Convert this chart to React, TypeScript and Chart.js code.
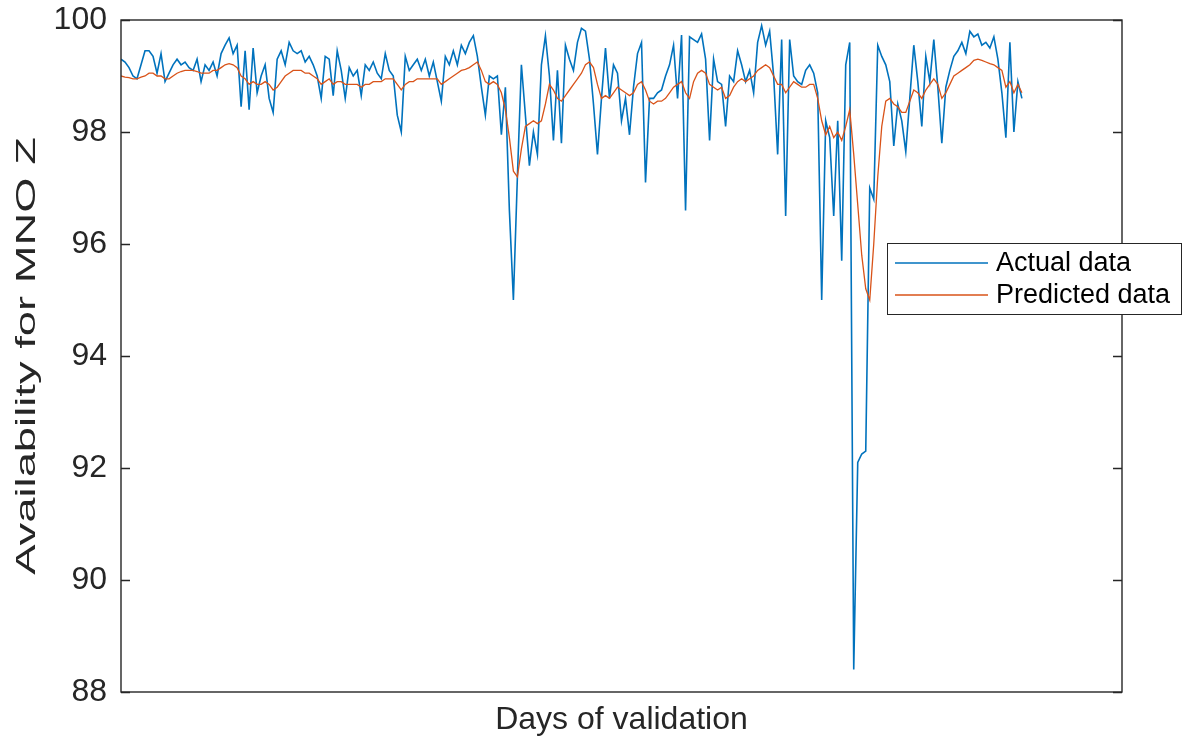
import React, { useEffect, useRef } from "react";
import { Chart, registerables } from "chart.js";

Chart.register(...registerables);

// Daily availability (%) over the validation window
const actualData = [
  99.3, 99.25, 99.15, 99.0, 98.95, 99.2, 99.45, 99.45, 99.35, 99.05,
  99.4, 98.9, 99.05, 99.2, 99.3, 99.2, 99.25, 99.15, 99.1, 99.3,
  98.9, 99.2, 99.1, 99.25, 99.0, 99.4, 99.55, 99.68, 99.4, 99.55,
  98.45, 99.45, 98.4, 99.5, 98.7, 99.0, 99.2, 98.6, 98.35, 99.3,
  99.45, 99.2, 99.6, 99.45, 99.4, 99.45, 99.25, 99.35, 99.2, 99.0,
  98.6, 99.35, 99.3, 98.65, 99.45, 99.1, 98.6, 99.15, 99.0, 99.1,
  98.65, 99.2, 99.1, 99.25, 99.05, 98.95, 99.4, 99.1, 99.0, 98.3,
  98.0, 99.35, 99.1, 99.2, 99.3, 99.1, 99.3, 99.0, 99.25, 98.9,
  98.55, 99.35, 99.2, 99.45, 99.2, 99.55, 99.4, 99.6, 99.72, 99.35,
  98.8, 98.3, 99.0, 98.95, 99.0, 97.95, 98.8, 96.6, 95.0, 97.2,
  99.2, 98.3, 97.4, 98.0, 97.6, 99.2, 99.72, 99.0, 97.85, 99.1,
  97.8, 99.55, 99.3, 99.1, 99.6, 99.85, 99.8, 99.3, 98.5, 97.6,
  98.6, 99.5, 98.6, 99.2, 99.05, 98.2, 98.6, 97.95, 98.8, 99.4,
  99.6, 97.1, 98.6, 98.6, 98.7, 98.75, 99.0, 99.2, 99.55, 98.6,
  99.73, 96.6, 99.7, 99.65, 99.6, 99.75, 99.3, 97.85, 99.3, 98.9,
  98.85, 98.1, 99.0, 98.9, 99.45, 99.2, 98.9, 99.1, 98.7, 99.6,
  99.9, 99.55, 99.8, 99.0, 97.6, 99.65, 96.5, 99.65, 99.0, 98.9,
  98.85, 99.1, 99.2, 99.05, 98.7, 95.0, 98.2, 97.9, 96.5, 98.2,
  95.7, 99.2, 99.6, 88.4, 92.1, 92.25, 92.3, 97.0, 96.8, 99.55,
  99.35, 99.2, 98.9, 97.75, 98.5, 98.2, 97.65, 98.6, 99.55, 98.9,
  98.1, 99.35, 98.9, 99.65, 98.8, 97.8, 98.8, 99.1, 99.35, 99.45,
  99.6, 99.4, 99.8, 99.7, 99.75, 99.55, 99.6, 99.5, 99.7, 99.3,
  98.7, 97.9, 99.6, 98.0, 98.9, 98.6,
];

// Model output for the same days
const predictedData = [
  99.0, 98.98, 98.97, 98.95, 98.95, 98.98, 99.0, 99.05, 99.05, 99.0,
  99.0, 98.95, 98.95, 99.0, 99.05, 99.08, 99.1, 99.1, 99.1, 99.08,
  99.05, 99.05, 99.05, 99.1, 99.1, 99.15, 99.2, 99.22, 99.2, 99.15,
  99.0, 98.95, 98.85, 98.9, 98.85, 98.85, 98.9, 98.85, 98.75, 98.8,
  98.9, 99.0, 99.05, 99.1, 99.1, 99.1, 99.05, 99.05, 99.0, 98.95,
  98.85, 98.9, 98.95, 98.85, 98.9, 98.9, 98.85, 98.85, 98.85, 98.85,
  98.8, 98.85, 98.85, 98.9, 98.9, 98.9, 98.95, 98.95, 98.95, 98.85,
  98.75, 98.85, 98.9, 98.9, 98.95, 98.95, 98.95, 98.95, 98.95, 98.95,
  98.85, 98.9, 98.95, 99.0, 99.05, 99.1, 99.12, 99.15, 99.2, 99.25,
  99.1, 98.9, 98.85, 98.9, 98.85, 98.7, 98.4, 97.9, 97.3, 97.2,
  97.7, 98.1, 98.15, 98.2, 98.15, 98.2, 98.5, 98.85, 98.75, 98.6,
  98.55, 98.65, 98.75, 98.85, 98.95, 99.05, 99.2, 99.25, 99.15, 98.85,
  98.6, 98.65, 98.6, 98.7, 98.8, 98.75, 98.7, 98.65, 98.7, 98.85,
  98.9, 98.75, 98.55, 98.5, 98.55, 98.55, 98.6, 98.7, 98.8, 98.85,
  98.9, 98.7, 98.6, 98.9, 99.05, 99.1, 99.05, 98.85, 98.8, 98.75,
  98.8, 98.6, 98.65, 98.8, 98.9, 98.95, 98.9, 98.95, 99.0, 99.1,
  99.15, 99.2, 99.15, 99.0, 98.85, 98.85, 98.7, 98.8, 98.9, 98.85,
  98.8, 98.8, 98.85, 98.85, 98.6, 98.2, 97.95, 98.1, 97.9, 98.0,
  97.85, 98.1, 98.4, 97.6, 96.7, 95.8, 95.2, 95.0, 96.0, 97.2,
  98.1, 98.55, 98.6, 98.5, 98.45, 98.35, 98.35, 98.55, 98.75, 98.7,
  98.6, 98.75, 98.85, 98.95, 98.85, 98.6, 98.7, 98.85, 99.0, 99.05,
  99.1, 99.15, 99.2, 99.28, 99.3, 99.28, 99.25, 99.22, 99.2, 99.15,
  99.1, 98.8, 98.9, 98.7, 98.85, 98.7,
];

const days = actualData.map((_, i) => i + 1);
const yTickValues = [88, 90, 92, 94, 96, 98, 100];
const seriesLabels = ["Actual data", "Predicted data"];
const seriesColors = ["#0072BD", "#D95319"];
const xAxisTitle = "Days of validation";
const yAxisTitle = "Availability for MNO Z";

const FONT = "'Liberation Sans', Arial, Helvetica, sans-serif";
const AXIS_COLOR = "#262626";

// Axes box, inward tick marks, rotated y label and the boxed legend
const framePlugin = {
  id: "frame",
  afterDraw(chart: any, _args: any, opts: any) {
    const { ctx, chartArea } = chart;
    const { left, top, right, bottom } = chartArea;
    const yScale = chart.scales.y;
    ctx.save();

    // box
    ctx.strokeStyle = AXIS_COLOR;
    ctx.lineWidth = 1.4;
    ctx.strokeRect(left, top, right - left, bottom - top);

    // ticks pointing into the plot on both vertical sides
    ctx.beginPath();
    for (const v of yTickValues) {
      const y = Math.round(yScale.getPixelForValue(v)) + 0.5;
      ctx.moveTo(left, y);
      ctx.lineTo(left + opts.tickLength, y);
      ctx.moveTo(right, y);
      ctx.lineTo(right - opts.tickLength, y);
    }
    ctx.stroke();

    // y-axis title
    ctx.save();
    ctx.translate(opts.yTitleX, (top + bottom) / 2);
    ctx.rotate(-Math.PI / 2);
    ctx.scale(opts.yTitleStretch, 1);
    ctx.fillStyle = AXIS_COLOR;
    ctx.font = `${opts.yTitleSize}px ${FONT}`;
    ctx.textAlign = "center";
    ctx.textBaseline = "middle";
    ctx.fillText(yAxisTitle, 0, 0);
    ctx.restore();

    // legend
    const lg = opts.legend;
    ctx.fillStyle = "#ffffff";
    ctx.fillRect(lg.x, lg.y, lg.w, lg.h);
    ctx.lineWidth = 1;
    ctx.strokeStyle = AXIS_COLOR;
    ctx.strokeRect(lg.x + 0.5, lg.y + 0.5, lg.w, lg.h);
    ctx.font = `${lg.fontSize}px ${FONT}`;
    ctx.textAlign = "left";
    ctx.textBaseline = "middle";
    chart.data.datasets.forEach((ds: any, i: number) => {
      const rowY = lg.rowY[i];
      ctx.strokeStyle = ds.borderColor;
      ctx.lineWidth = 1.3;
      ctx.beginPath();
      ctx.moveTo(lg.lineX0, rowY);
      ctx.lineTo(lg.lineX1, rowY);
      ctx.stroke();
      ctx.fillStyle = "#000000";
      ctx.fillText(ds.label, lg.textX, rowY + 1);
    });

    ctx.restore();
  },
};

export default function App() {
  const canvasRef = useRef<HTMLCanvasElement | null>(null);

  useEffect(() => {
    if (!canvasRef.current) return;
    const chart = new Chart(canvasRef.current, {
      type: "line",
      data: {
        datasets: [
          {
            label: seriesLabels[0],
            data: days.map((d, i) => ({ x: d, y: actualData[i] })),
            borderColor: seriesColors[0],
            borderWidth: 1.6,
            pointRadius: 0,
            tension: 0,
            order: 2,
          },
          {
            label: seriesLabels[1],
            data: days.map((d, i) => ({ x: d, y: predictedData[i] })),
            borderColor: seriesColors[1],
            borderWidth: 1.3,
            pointRadius: 0,
            tension: 0,
            order: 1,
          },
        ],
      },
      options: {
        animation: false,
        responsive: true,
        maintainAspectRatio: false,
        devicePixelRatio: 1,
        layout: { padding: { top: 20, right: 69, left: 0, bottom: 0 } },
        plugins: {
          legend: { display: false },
          tooltip: { enabled: false },
          frame: {
            tickLength: 9,
            yTitleX: 27,
            yTitleSize: 28,
            yTitleStretch: 1.62,
            legend: {
              x: 887,
              y: 243,
              w: 294,
              h: 71,
              lineX0: 895,
              lineX1: 988,
              textX: 996,
              rowY: [263, 295],
              fontSize: 27,
            },
          },
        } as any,
        scales: {
          x: {
            type: "linear",
            min: 1,
            max: 251,
            grid: { display: false, drawTicks: false },
            border: { display: false },
            ticks: { display: false },
            title: {
              display: true,
              text: xAxisTitle,
              color: AXIS_COLOR,
              font: { family: FONT, size: 32 },
              padding: { top: 0, bottom: 5 },
            },
            afterFit: (scale: any) => {
              scale.height = 52;
              scale.paddingLeft = 0;
              scale.paddingRight = 0;
            },
          },
          y: {
            type: "linear",
            min: 88,
            max: 100,
            grid: { display: false, drawTicks: false },
            border: { display: false },
            ticks: {
              stepSize: 2,
              padding: 14,
              color: AXIS_COLOR,
              font: { family: FONT, size: 32 },
            },
            afterFit: (scale: any) => {
              scale.width = 121;
              scale.paddingTop = 0;
              scale.paddingBottom = 0;
            },
          },
        },
      },
      plugins: [framePlugin],
    });
    return () => chart.destroy();
  }, []);

  return (
    <div
      style={{
        position: "fixed",
        left: 0,
        top: 0,
        width: 1191,
        height: 744,
        background: "#ffffff",
      }}
    >
      <canvas ref={canvasRef} />
    </div>
  );
}
